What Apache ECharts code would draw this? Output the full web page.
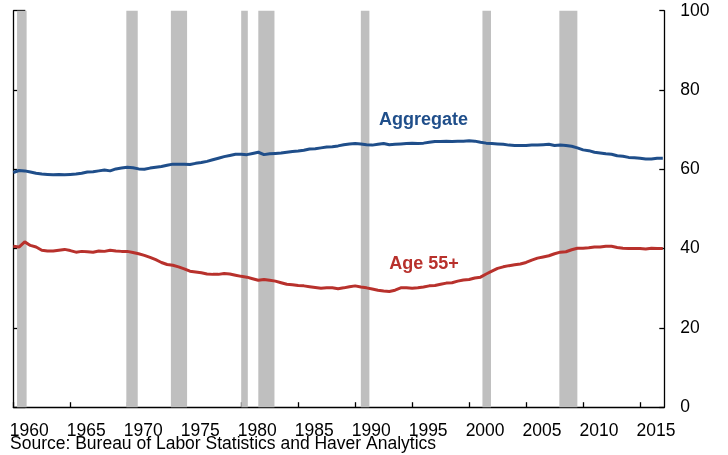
<!DOCTYPE html>
<html>
<head>
<meta charset="utf-8">
<script src="https://cdn.jsdelivr.net/npm/echarts@6/dist/echarts.min.js"></script>
<style>html,body{margin:0;padding:0;background:#fff;}#c{width:728px;height:455px;}</style>
</head>
<body>
<div id="c"></div>
<script>
// Half-year sample dates (decimal years)
const dates = [];
for (let y = 1960; y <= 2017; y++) { dates.push(y); if (y < 2017) dates.push(y + 0.5); }

const aggregate = [
59.2,59.7,59.6,59.3,59.0,58.8,58.7,58.6,58.7,58.6,
58.7,58.8,59.0,59.3,59.4,59.6,59.8,59.6,60.1,60.3,
60.5,60.4,60.1,60.0,60.3,60.5,60.7,61.0,61.3,61.3,
61.3,61.2,61.5,61.7,62.0,62.4,62.8,63.2,63.5,63.8,
63.8,63.7,64.0,64.3,63.7,63.9,64.0,64.1,64.3,64.5,
64.6,64.8,65.1,65.2,65.4,65.6,65.7,65.9,66.2,66.4,
66.5,66.4,66.2,66.1,66.3,66.5,66.2,66.3,66.4,66.5,
66.6,66.5,66.6,66.8,67.0,67.0,67.1,67.0,67.1,67.1,
67.2,67.1,66.8,66.6,66.5,66.4,66.3,66.1,66.0,66.0,
66.0,66.1,66.1,66.2,66.3,66.0,66.1,66.0,65.8,65.4,
64.9,64.7,64.3,64.1,63.9,63.8,63.4,63.3,63.0,62.9,
62.8,62.6,62.6,62.8,62.8
];

const age55 = [
40.6,40.4,41.7,40.8,40.4,39.6,39.4,39.4,39.6,39.8,
39.5,39.1,39.3,39.2,39.1,39.4,39.3,39.6,39.4,39.3,
39.3,39.0,38.7,38.3,37.8,37.2,36.5,36.0,35.8,35.4,
34.9,34.3,34.1,33.9,33.6,33.5,33.5,33.7,33.6,33.3,
33.0,32.8,32.4,32.0,32.2,32.0,31.8,31.4,31.0,30.9,
30.7,30.6,30.4,30.2,30.0,30.1,30.1,29.9,30.1,30.4,
30.6,30.3,30.1,29.8,29.5,29.3,29.2,29.5,30.1,30.1,
30.0,30.1,30.3,30.6,30.7,31.0,31.3,31.4,31.8,32.1,
32.2,32.6,32.8,33.6,34.3,35.0,35.4,35.7,35.9,36.1,
36.5,37.1,37.6,37.9,38.2,38.7,39.1,39.2,39.7,40.1,
40.1,40.2,40.4,40.4,40.6,40.6,40.3,40.1,40.0,40.0,
40.0,39.9,40.1,40.0,40.0
];

// NBER recessions [start, end] in decimal years
const recessions = [
  [1960.33, 1961.17], [1969.92, 1970.92], [1973.83, 1975.25], [1980.0, 1980.58],
  [1981.5, 1982.92], [1990.5, 1991.25], [2001.17, 2001.92], [2007.92, 2009.5]
];

const xTicks = [1960,1965,1970,1975,1980,1985,1990,1995,2000,2005,2010,2015];
const yTicks = [0,20,40,60,80,100];

const seriesNames = ['Aggregate', 'Age 55+'];
const labelPos = [[1996.0, 72.4], [1996.05, 36.0]];
const source = 'Source: Bureau of Labor Statistics and Haver Analytics';

const BLUE = '#1f4e8a', RED = '#b8312c';
const chart = echarts.init(document.getElementById('c'));
const font = 'Arial, "Liberation Sans", Helvetica, sans-serif';

const pairs = arr => arr.map((v, i) => [dates[i], v]);

chart.setOption({
  animation: false,
  grid: { left: 13.3, right: 63.7, top: 10.7, bottom: 47.8, containLabel: false },
  xAxis: {
    type: 'value', min: 1960, max: 2017.13, interval: 5,
    axisLine: { lineStyle: { color: '#000', width: 1.3 } },
    axisTick: { inside: true, length: 5, lineStyle: { color: '#000', width: 1.3 } },
    splitLine: { show: false },
    axisLabel: {
      color: '#000', fontSize: 17.5, fontFamily: font, margin: 15,
      padding: [0, 0, 0, 32], showMaxLabel: false,
      formatter: v => xTicks.indexOf(v) >= 0 ? String(v) : ''
    }
  },
  yAxis: [
    {
      type: 'value', position: 'left', min: 0, max: 100, interval: 20,
      axisLine: { show: true, onZero: false, lineStyle: { color: '#000', width: 1.3 } },
      axisTick: { show: true, inside: true, length: 12, lineStyle: { color: '#000', width: 1.3 } },
      axisLabel: { show: false }, splitLine: { show: false }
    },
    {
      type: 'value', position: 'right', min: 0, max: 100, interval: 20,
      axisLine: { show: true, onZero: false, lineStyle: { color: '#000', width: 1.3 } },
      axisTick: { show: true, inside: true, length: 5, lineStyle: { color: '#000', width: 1.3 } },
      axisLabel: { color: '#000', fontSize: 17.5, fontFamily: font, margin: 16,
        formatter: v => yTicks.indexOf(v) >= 0 ? String(v) : '' },
      splitLine: { show: false }
    }
  ],
  series: [
    {
      type: 'line', name: 'recessions', data: pairs(aggregate), z: 1,
      showSymbol: false, silent: true, lineStyle: { width: 0, opacity: 0 },
      markArea: {
        silent: true, itemStyle: { color: '#bfbfbf' },
        data: recessions.map(r => [{ xAxis: r[0], yAxis: 0 }, { xAxis: r[1], yAxis: 100 }])
      }
    },
    {
      type: 'line', name: seriesNames[0], data: pairs(aggregate), z: 3,
      showSymbol: false, lineStyle: { color: BLUE, width: 3 }, itemStyle: { color: BLUE }
    },
    {
      type: 'line', name: seriesNames[1], data: pairs(age55), z: 3,
      showSymbol: false, lineStyle: { color: RED, width: 3 }, itemStyle: { color: RED }
    }
  ]
});

const p1 = chart.convertToPixel({ gridIndex: 0 }, labelPos[0]);
const p2 = chart.convertToPixel({ gridIndex: 0 }, labelPos[1]);
chart.setOption({
  graphic: [
    { type: 'text', x: p1[0], y: p1[1], style: { text: seriesNames[0], fill: BLUE,
      font: 'bold 18px ' + font, textAlign: 'center', textVerticalAlign: 'middle' } },
    { type: 'text', x: p2[0], y: p2[1], style: { text: seriesNames[1], fill: RED,
      font: 'bold 18px ' + font, textAlign: 'center', textVerticalAlign: 'middle' } },
    { type: 'text', left: 10, top: 435, style: { text: source, fill: '#000',
      font: '17.5px ' + font } }
  ]
});
</script>
</body>
</html>
